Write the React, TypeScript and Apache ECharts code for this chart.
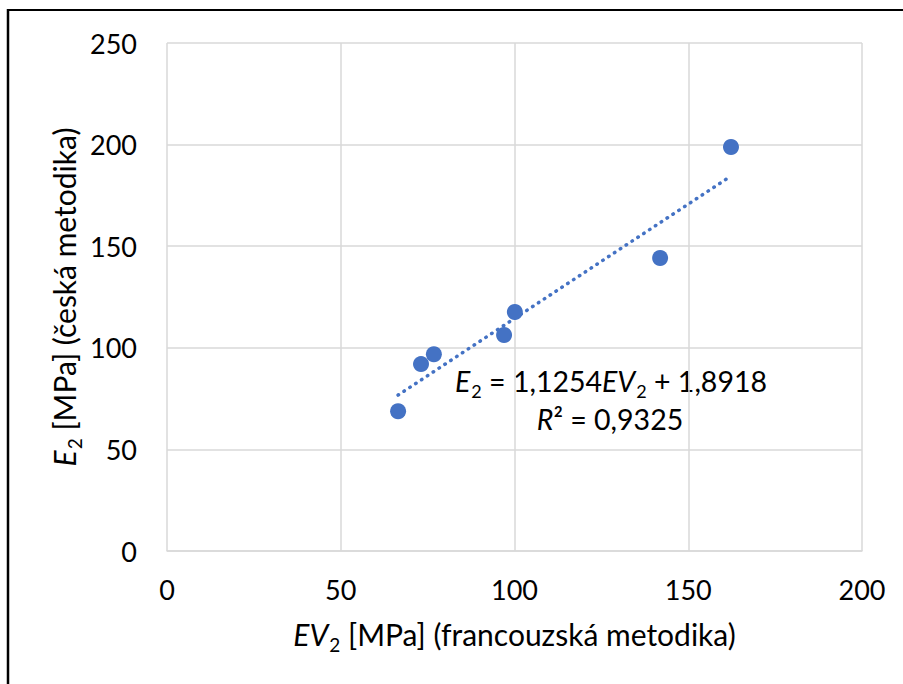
import React, { useEffect, useRef } from "react";
import * as echarts from "echarts";

const evValues = [66.5, 73.1, 76.8, 97.0, 100.1, 141.9, 162.3];
const e2Values = [68.8, 92.0, 96.8, 106.3, 117.6, 144.2, 198.8];
const slope = 1.1254;
const intercept = 1.8918;
const xTicks = [0, 50, 100, 150, 200];
const yTicks = [0, 50, 100, 150, 200, 250];

const FONT = "Lato, 'Open Sans', sans-serif";
const BLUE = "#4472C4";
const TICK = 27;
const TITLE = 30;
const EQ = 28.5;

export default function App() {
  const ref = useRef<HTMLDivElement>(null);
  useEffect(() => {
    if (!ref.current) return;
    const chart = echarts.init(ref.current, null, { renderer: "svg" });
    const xmin = Math.min(...evValues);
    const xmax = Math.max(...evValues);
    const trend = [
      [xmin, slope * xmin + intercept],
      [xmax, slope * xmax + intercept],
    ];
    const titleRich = {
      i: { fontSize: TITLE, lineHeight: 40, fontFamily: FONT, fontStyle: "italic", color: "#000" },
      s: { fontSize: 19, fontFamily: FONT, color: "#000", verticalAlign: "bottom", padding: [6, 0, 0, 1] },
      n: { fontSize: TITLE, lineHeight: 40, fontFamily: FONT, color: "#000" },
    };
    chart.setOption({
      animation: false,
      backgroundColor: "#fff",
      grid: { left: 167, right: 41, top: 43, bottom: 133, containLabel: false },
      xAxis: {
        type: "value",
        min: xTicks[0],
        max: xTicks[xTicks.length - 1],
        interval: 50,
        axisLine: { show: true, lineStyle: { color: "#d9d9d9", width: 1.5 } },
        axisTick: { show: false },
        splitLine: { show: true, lineStyle: { color: "#d9d9d9", width: 1.5 } },
        axisLabel: { fontSize: TICK, fontFamily: FONT, color: "#000", margin: 25 },
        name: "{i|EV}{s|2}{n| [MPa] (francouzská metodika)}",
        nameLocation: "middle",
        nameGap: 63,
        nameMoveOverlap: false,
        nameTextStyle: { rich: titleRich },
      },
      yAxis: {
        type: "value",
        min: yTicks[0],
        max: yTicks[yTicks.length - 1],
        interval: 50,
        axisLine: { show: false },
        axisTick: { show: false },
        splitLine: { show: true, lineStyle: { color: "#d9d9d9", width: 1.5 } },
        axisLabel: { fontSize: TICK, fontFamily: FONT, color: "#000", margin: 30 },
        name: "{i|E}{s|2}{n| [MPa] (česká metodika)}",
        nameLocation: "middle",
        nameRotate: 90,
        nameGap: 83,
        nameMoveOverlap: false,
        nameTextStyle: { rich: titleRich },
      },
      series: [
        {
          type: "line",
          data: trend,
          symbol: "none",
          lineStyle: { color: BLUE, width: 3.5, type: [0.5, 6.5], cap: "round" },
          z: 1,
        },
        {
          type: "scatter",
          data: evValues.map((v, i) => [v, e2Values[i]]),
          symbolSize: 16,
          itemStyle: { color: BLUE, opacity: 1 },
          z: 2,
        },
      ],
      graphic: [
        { type: "line", shape: { x1: 7, y1: 10, x2: 903, y2: 10 }, style: { stroke: "#000", lineWidth: 2 } },
        { type: "line", shape: { x1: 8, y1: 9, x2: 8, y2: 684 }, style: { stroke: "#000", lineWidth: 2.5 } },
        {
          type: "text",
          x: 611,
          y: 381,
          style: {
            text: "{i|E}{s|2}{n| = 1,1254}{i|EV}{s|2}{n| + 1,8918}",
            align: "center",
            verticalAlign: "middle",
            rich: {
              i: { fontSize: EQ, lineHeight: 38, fontFamily: FONT, fontStyle: "italic", fill: "#000" },
              s: { fontSize: 18, fontFamily: FONT, fill: "#000", verticalAlign: "bottom", padding: [6, 0, 0, 1] },
              n: { fontSize: EQ, lineHeight: 38, fontFamily: FONT, fill: "#000" },
            },
          },
        },
        {
          type: "text",
          x: 610,
          y: 419,
          style: {
            text: "{i|R}{n|² = 0,9325}",
            align: "center",
            verticalAlign: "middle",
            rich: {
              i: { fontSize: EQ, fontFamily: FONT, fontStyle: "italic", fill: "#000" },
              n: { fontSize: EQ, fontFamily: FONT, fill: "#000" },
            },
          },
        },
      ],
    });
    return () => chart.dispose();
  }, []);
  return (
    <div
      ref={ref}
      style={{ position: "fixed", left: 0, top: 0, width: 903, height: 684 }}
    />
  );
}
